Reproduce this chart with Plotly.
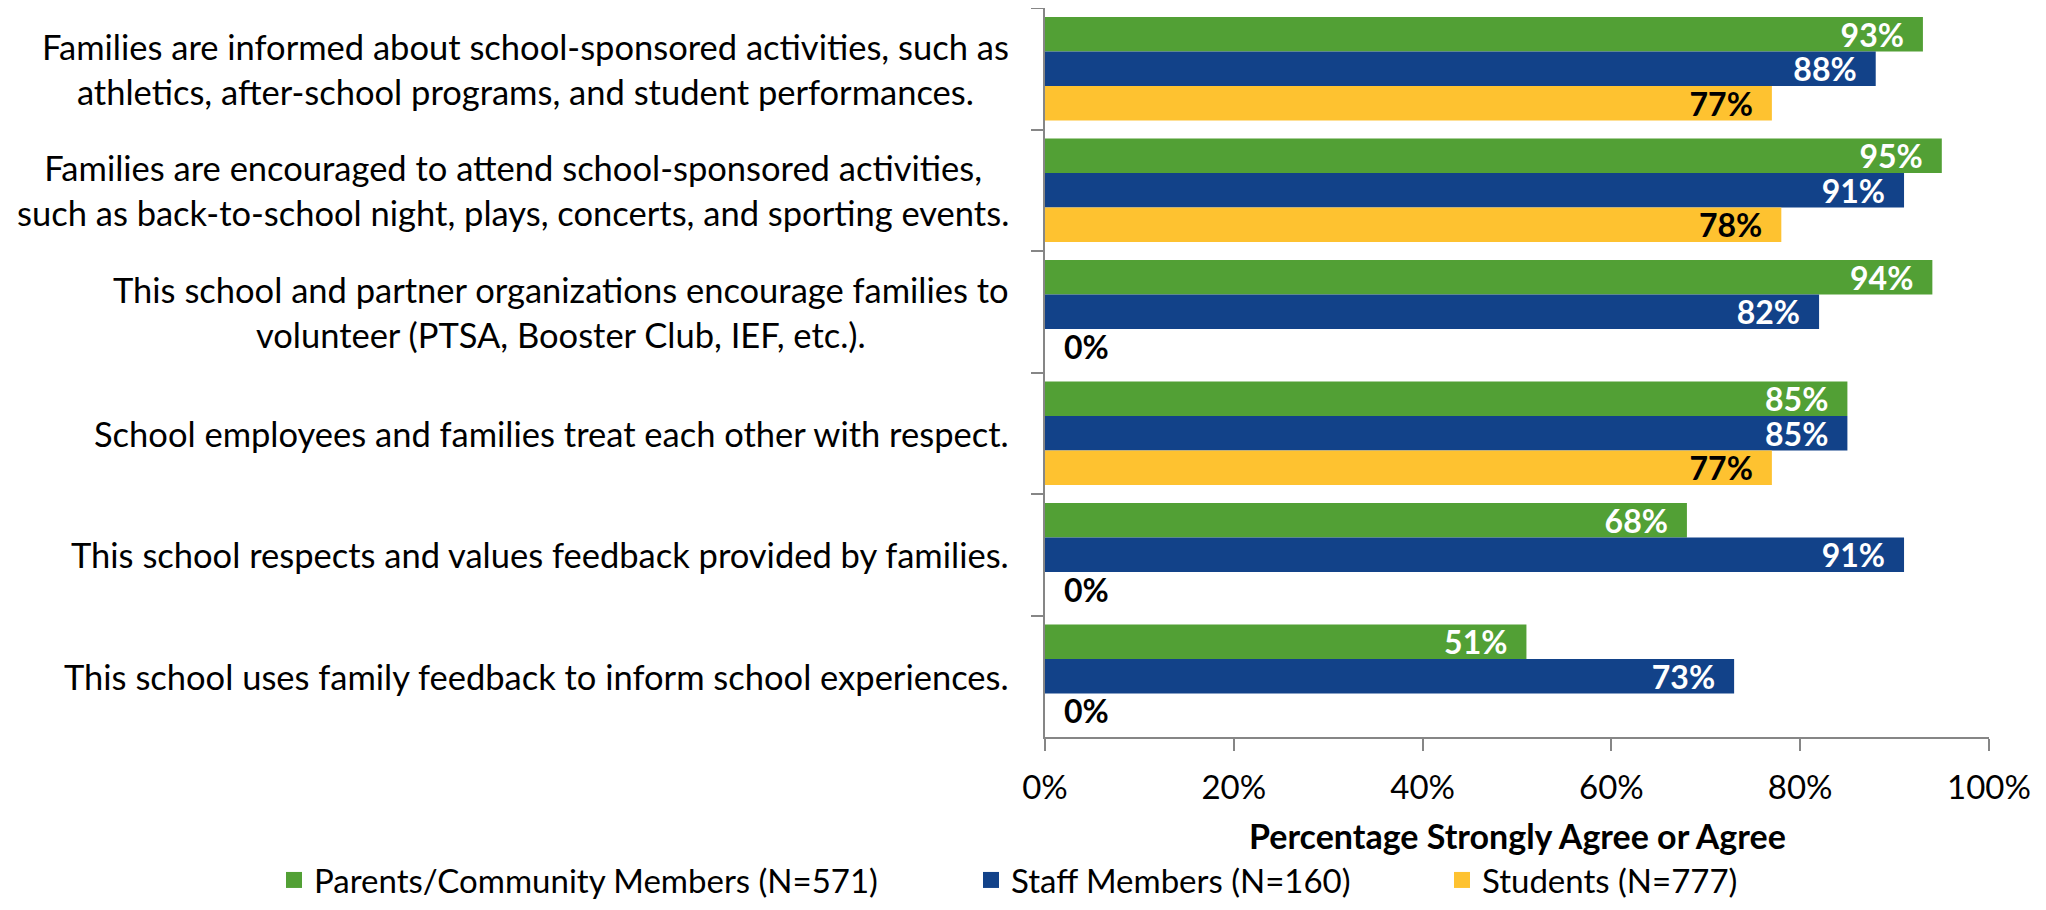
import plotly.graph_objects as go

categories = [
    "Families are informed about school-sponsored activities, such as<br>athletics, after-school programs, and student performances.",
    "Families are encouraged to attend school-sponsored activities,<br>such as back-to-school night, plays, concerts, and sporting events.",
    "This school and partner organizations encourage families to<br>volunteer (PTSA, Booster Club, IEF, etc.).",
    "School employees and families treat each other with respect.",
    "This school respects and values feedback provided by families.",
    "This school uses family feedback to inform school experiences.",
]
parents = [93, 95, 94, 85, 68, 51]
staff = [88, 91, 82, 85, 91, 73]
students = [77, 78, 0, 77, 0, 0]

series = [
    ("Parents/Community Members (N=571)", parents, "#52A035", "white"),
    ("Staff Members (N=160)", staff, "#124289", "white"),
    ("Students (N=777)", students, "#FEC230", "black"),
]
x_ticks = [0, 20, 40, 60, 80, 100]
axis_title = "Percentage Strongly Agree or Agree"

FONT = "Lato"
OFF = 8  # page body margin
W, H = 2046 - 2 * OFF, 910 - 2 * OFF
ML, MR, MT, MB = 1045 - OFF, W - (1989 - OFF), 0, H - (737 - OFF)
PW, PH = W - ML - MR, H - MT - MB
SP = "\u2002"

fig = go.Figure()
for name, vals, color, tcolor in series:
    fig.add_trace(go.Bar(
        y=categories, x=vals, name=name, orientation="h", showlegend=False,
        marker=dict(color=color, line=dict(width=0)),
        text=[f"{v}%{SP}" if v > 0 else f"{SP}{v}%" for v in vals],
        textposition=["inside" if v > 0 else "outside" for v in vals],
        insidetextanchor="end",
        constraintext="none",
        cliponaxis=False,
        textfont=dict(family=FONT, size=32, weight="bold",
                      color=[tcolor if v > 0 else "black" for v in vals]),
        hoverinfo="skip",
    ))

# legend entries (square swatches), one legend per entry for exact placement
legend_sq_px = [284, 981, 1452]
legend_names = ["legend", "legend2", "legend3"]
legend_y = -(880 - 737) / PH
for (name, vals, color, _), lg in zip(series, legend_names):
    fig.add_trace(go.Scatter(
        x=[None], y=[None], mode="markers", name=name, legend=lg,
        marker=dict(symbol="square", size=20, color=color),
        hoverinfo="skip",
    ))

for c in categories:
    fig.add_annotation(
        x=-(1045 - 1011) / PW, xref="paper", y=c, yref="y", text=c, showarrow=False,
        xanchor="right", yanchor="middle", align="center",
        font=dict(family=FONT, size=34.5, color="black"),
    )

fig.add_annotation(
    x=0.5, xref="paper", y=-(835 - 737) / PH, yref="paper",
    text=f"<b>{axis_title}</b>", showarrow=False, xanchor="center", yanchor="middle",
    font=dict(family=FONT, size=34, color="black"),
)

leg_common = dict(orientation="h", yanchor="middle", xanchor="left",
                  font=dict(family=FONT, size=33, color="black"),
                  bgcolor="rgba(0,0,0,0)", itemwidth=30)
legends = {}
for lg, px in zip(legend_names, legend_sq_px):
    legends[lg] = dict(leg_common, x=(px + 10 - 20 - 1045) / PW, y=legend_y)

fig.update_layout(
    width=W, height=H,
    margin=dict(l=ML, r=MR, t=MT, b=MB, autoexpand=False),
    barmode="group", bargap=0.148, bargroupgap=0,
    plot_bgcolor="white", paper_bgcolor="white",
    font=dict(family=FONT, size=33, color="black"),
    **legends,
)
fig.update_xaxes(
    range=[0, 100], tickvals=x_ticks, ticktext=[f"{t}%" for t in x_ticks],
    showgrid=False, zeroline=False, showline=True, linecolor="#868686", linewidth=1.5,
    ticks="outside", ticklen=12, tickcolor="#868686", tickwidth=1.5,
    tickfont=dict(family=FONT, size=33), ticklabelstandoff=9,
)
fig.update_yaxes(
    autorange="reversed", showticklabels=False, showgrid=False, zeroline=False,
    showline=True, linecolor="#868686", linewidth=1.5,
    ticks="outside", tickson="boundaries", ticklen=12, tickcolor="#868686", tickwidth=1.5,
)

fig.write_html("out.html")
